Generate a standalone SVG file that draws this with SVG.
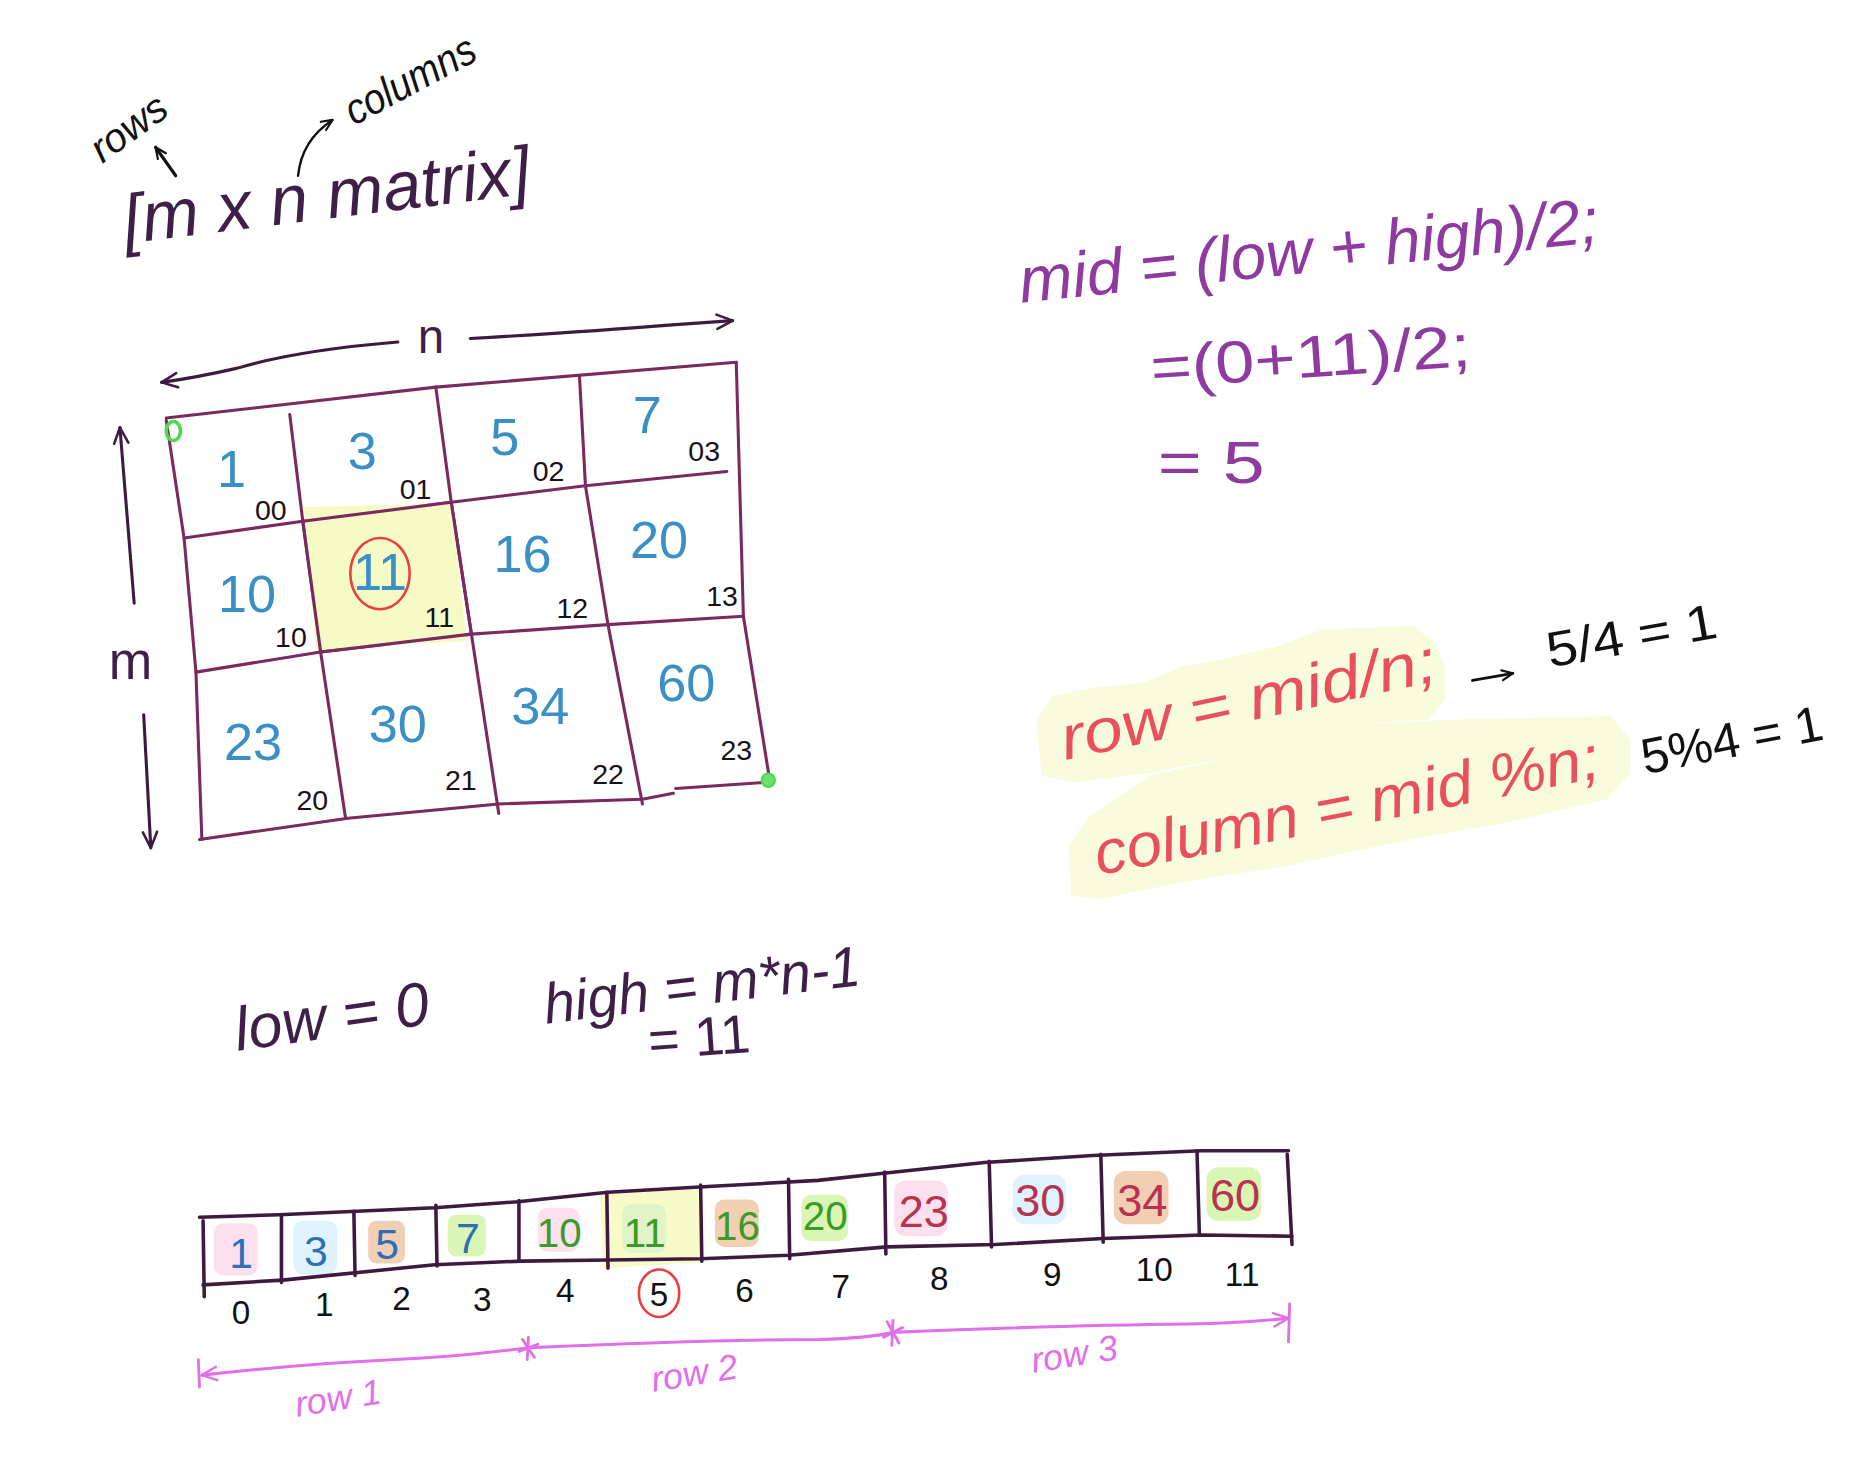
<svg xmlns="http://www.w3.org/2000/svg" width="1862" height="1457" viewBox="0 0 1862 1457">
<style>
text{font-family:"Liberation Sans","DejaVu Sans",sans-serif}
.grid{fill:none;stroke:#7b2a5f;stroke-width:2.6;stroke-linecap:round;stroke-linejoin:round}
.arr{fill:none;stroke:#3e1a40;stroke-width:3;stroke-linecap:round;stroke-linejoin:round}
.val{fill:#3a8fc4;font-size:44px;text-anchor:middle}
.idx{fill:#1a1018;font-size:24px;text-anchor:middle}
.dp{fill:#3e1f47}
.pur{fill:#8e3aa0}
.red{fill:#e8505e}
.blk{fill:#111}
.pink{fill:#e070e8}
.blue{fill:#2f6fb8;font-size:36px;text-anchor:middle}
.green{fill:#3a9a2a;font-size:34px;text-anchor:middle}
.dred{fill:#b8334f;font-size:38px;text-anchor:middle}
.aidx{fill:#111;font-size:28px;text-anchor:middle}
.con{fill:none;stroke-linecap:round;stroke-linejoin:round}
</style>
<defs>
<marker id="hd" viewBox="0 0 12 12" refX="11" refY="6" markerWidth="16" markerHeight="16" orient="auto" markerUnits="userSpaceOnUse">
<path d="M1,1.5 L11,6 L1,10.5" fill="none" stroke="#3e1a40" stroke-width="1.6" stroke-linecap="round" stroke-linejoin="round"/>
</marker>
<marker id="hdk" viewBox="0 0 12 12" refX="11" refY="6" markerWidth="11" markerHeight="11" orient="auto" markerUnits="userSpaceOnUse">
<path d="M1,1.5 L11,6 L1,10.5" fill="none" stroke="#111" stroke-width="2" stroke-linecap="round" stroke-linejoin="round"/>
</marker>
<marker id="hdp" viewBox="0 0 12 12" refX="11" refY="6" markerWidth="15" markerHeight="15" orient="auto" markerUnits="userSpaceOnUse">
<path d="M1,1.5 L11,6 L1,10.5" fill="none" stroke="#e070e8" stroke-width="1.6" stroke-linecap="round" stroke-linejoin="round"/>
</marker>
</defs>
<rect width="1862" height="1457" fill="#fff"/>
<g transform="scale(1.1875)">

<g id="title">
<text class="dp" font-size="58" transform="translate(106,205) rotate(-7)" textLength="345" lengthAdjust="spacingAndGlyphs" font-style="italic">[m x n  matrix]</text>
<text class="blk" font-size="34" font-style="italic" transform="translate(86,138) rotate(-36)">rows</text>
<text class="blk" font-size="36" font-style="italic" transform="translate(298,106) rotate(-28)" textLength="120" lengthAdjust="spacingAndGlyphs">columns</text>
</g>

<g id="matrix">
<path class="grid" d="M140,352 L367,326 L620,305"/>
<path class="grid" d="M140,354 L155,453 L165,566 L170,707"/>
<path class="grid" d="M620,305 L626,519 L648,656"/>
<path class="grid" d="M168,707 L293,689 L420,677 L541,673 L567,668"/>
<path class="grid" d="M569,664 L643,659"/>
<path class="grid" d="M155,453 L255,439 L380,423 L493,409 L612,397"/>
<path class="grid" d="M165,566 L270,549 L397,534 L512,526 L626,519"/>
<path class="grid" d="M244,349 L255,439 L270,549 L291,689"/>
<path class="grid" d="M367,326 L380,423 L397,534 L420,685"/>
<path class="grid" d="M488,317 L493,409 L512,526 L541,677"/>
</g>

<g id="cell-highlight">
<path d="M256,427 L380,424 L393,540 L266,547 Z" fill="#f5fbc0" opacity="0.9"/>
<path class="grid" d="M255,439 L380,423 L397,534 L270,549 Z"/>
</g>

<g id="matrix-values">
<text class="val" x="195" y="410">1</text>
<text class="val" x="305" y="395">3</text>
<text class="val" x="425" y="383">5</text>
<text class="val" x="545" y="365">7</text>
<text class="val" x="208" y="515">10</text>
<text class="val" x="320" y="497">11</text>
<text class="val" x="440" y="482">16</text>
<text class="val" x="555" y="470">20</text>
<text class="val" x="213" y="640">23</text>
<text class="val" x="335" y="625">30</text>
<text class="val" x="455" y="610">34</text>
<text class="val" x="578" y="590">60</text>
<ellipse cx="320" cy="483" rx="25" ry="30" fill="none" stroke="#e84040" stroke-width="2.2"/>
</g>

<g id="matrix-indices">
<text class="idx" x="228" y="438">00</text>
<text class="idx" x="350" y="420">01</text>
<text class="idx" x="462" y="405">02</text>
<text class="idx" x="593" y="388">03</text>
<text class="idx" x="245" y="545">10</text>
<text class="idx" x="370" y="528">11</text>
<text class="idx" x="482" y="520">12</text>
<text class="idx" x="608" y="510">13</text>
<text class="idx" x="263" y="682">20</text>
<text class="idx" x="388" y="665">21</text>
<text class="idx" x="512" y="660">22</text>
<text class="idx" x="620" y="640">23</text>
</g>

<g id="corners">
<ellipse cx="146" cy="363" rx="6" ry="8" fill="none" stroke="#4ddb4d" stroke-width="3"/>
<circle cx="647" cy="657" r="5.5" fill="#6ee06e" stroke="#4ddb4d" stroke-width="2"/>
</g>

<g id="dim-labels">
<text class="dp" font-size="40" x="363" y="297" text-anchor="middle">n</text>
<text class="dp" font-size="44" x="110" y="572" text-anchor="middle">m</text>
</g>

<g id="formula-mid">
<text class="pur" font-size="54" font-style="italic" transform="translate(860,255) rotate(-6)" textLength="490" lengthAdjust="spacingAndGlyphs">mid = (low + high)/2;</text>
<text class="pur" font-size="50" transform="translate(970,327) rotate(-4)" textLength="270" lengthAdjust="spacingAndGlyphs">=(0+11)/2;</text>
<text class="pur" font-size="50" x="975" y="407" textLength="90" lengthAdjust="spacingAndGlyphs">=  5</text>
</g>

<g id="formula-rowcol">
<path d="M873,606 L886,586 L922,579 L963,575 L995,561 L1031,555 L1076,544 L1113,530 L1190,527 L1208,541 L1217,561 L1217,589 L1203,606 L1113,611 L1040,637 L968,651 L904,659 L877,653 Z" fill="#f9fcdc"/>
<path d="M900,712 L918,687 L968,653 L1040,637 L1113,611 L1221,606 L1357,603 L1373,623 L1373,651 L1353,673 L1267,693 L1176,709 L1085,729 L995,743 L927,757 L902,754 Z" fill="#f9fcdc"/>
<text class="red" font-size="52" font-style="italic" transform="translate(897,640) rotate(-12)" textLength="322" lengthAdjust="spacingAndGlyphs">row = mid/n;</text>
<text class="red" font-size="52" font-style="italic" transform="translate(925,737) rotate(-11)" textLength="432" lengthAdjust="spacingAndGlyphs">column = mid %n;</text>
<text class="blk" font-size="42" transform="translate(1305,562) rotate(-10)" textLength="145" lengthAdjust="spacingAndGlyphs">5/4 = 1</text>
<text class="blk" font-size="42" transform="translate(1385,652) rotate(-11)" textLength="155" lengthAdjust="spacingAndGlyphs">5%4 = 1</text>
</g>

<g id="low-high">
<text class="dp" font-size="52" font-style="italic" transform="translate(200,885) rotate(-8)" textLength="165" lengthAdjust="spacingAndGlyphs">low = 0</text>
<text class="dp" font-size="48" font-style="italic" transform="translate(460,862) rotate(-7)" textLength="268" lengthAdjust="spacingAndGlyphs">high = m*n-1</text>
<text class="dp" font-size="46" transform="translate(547,892) rotate(-4)" textLength="86" lengthAdjust="spacingAndGlyphs">= 11</text>
</g>

<g id="array">
<path d="M505,1004 L588,999 L590,1063 L508,1068 Z" fill="#f6fbc8"/>
<rect x="180" y="1030" width="37" height="44" rx="8" fill="#fde0ee"/>
<rect x="247" y="1028" width="37" height="45" rx="8" fill="#def3fd"/>
<rect x="310" y="1028" width="31" height="36" rx="7" fill="#f1cfb3"/>
<rect x="377" y="1023" width="32" height="35" rx="7" fill="#d9f6b4"/>
<rect x="453" y="1017" width="35" height="37" rx="8" fill="#fde0ee"/>
<rect x="524" y="1014" width="37" height="41" rx="8" fill="#e0f3c9"/>
<rect x="602" y="1010" width="37" height="40" rx="8" fill="#f1cfb3"/>
<rect x="675" y="1006" width="39" height="39" rx="8" fill="#d9f6b4"/>
<rect x="753" y="994" width="45" height="47" rx="10" fill="#fde0ee"/>
<rect x="853" y="989" width="45" height="42" rx="10" fill="#def3fd"/>
<rect x="938" y="986" width="46" height="45" rx="10" fill="#f1cfb3"/>
<rect x="1016" y="983" width="46" height="45" rx="10" fill="#d9f6b4"/>
<path class="arr" d="M168,1025 L235,1023 L366,1017 L436,1012 L512,1004 L600,999 L689,994 L744,988 L829,979 L920,973 L1012,969 L1085,969"/>
<path class="arr" d="M171,1082 L238,1078 L366,1065 L439,1062 L512,1061 L590,1060 L664,1057 L747,1050 L838,1048 L929,1043 L1012,1040 L1088,1041"/>
<path class="arr" d="M171,1028 L172,1092 M237,1024 L237,1080 M298,1020 L299,1074 M367,1015 L368,1066 M437,1011 L437,1062 M511,1004 L512,1068 M590,998 L591,1062 M664,993 L665,1060 M745,987 L746,1056 M833,978 L835,1050 M927,972 L929,1046 M1008,969 L1010,1040 M1084,972 L1088,1048"/>
<text class="blue" x="203" y="1068">1</text>
<text class="blue" x="266" y="1066">3</text>
<text class="blue" x="326" y="1060">5</text>
<text class="blue" x="394" y="1055">7</text>
<text class="green" x="471" y="1050">10</text>
<text class="green" x="543" y="1050">11</text>
<text class="green" x="621" y="1044">16</text>
<text class="green" x="695" y="1036">20</text>
<text class="dred" x="778" y="1033">23</text>
<text class="dred" x="876" y="1024">30</text>
<text class="dred" x="962" y="1024">34</text>
<text class="dred" x="1040" y="1020">60</text>
</g>

<g id="array-indices">
<text class="aidx" x="203" y="1115">0</text>
<text class="aidx" x="273" y="1108">1</text>
<text class="aidx" x="338" y="1103">2</text>
<text class="aidx" x="406" y="1104">3</text>
<text class="aidx" x="476" y="1096">4</text>
<text class="aidx" x="555" y="1100">5</text>
<text class="aidx" x="627" y="1096">6</text>
<text class="aidx" x="708" y="1093">7</text>
<text class="aidx" x="791" y="1086">8</text>
<text class="aidx" x="886" y="1083">9</text>
<text class="aidx" x="972" y="1079">10</text>
<text class="aidx" x="1046" y="1083">11</text>
<ellipse cx="555" cy="1089" rx="17" ry="20" fill="none" stroke="#e84040" stroke-width="2.2"/>
</g>

<g id="row-labels">
<text class="pink" font-size="30" font-style="italic" transform="translate(250,1193) rotate(-9)">row 1</text>
<text class="pink" font-size="30" font-style="italic" transform="translate(550,1172) rotate(-9)">row 2</text>
<text class="pink" font-size="30" font-style="italic" transform="translate(870,1156) rotate(-9)">row 3</text>
</g>

<g id="connectors">
<path class="con" stroke="#111" stroke-width="2.6" d="M148,148 L131,124" marker-end="url(#hdk)"/>
<path class="con" stroke="#111" stroke-width="2" d="M251,148 Q254,118 280,101" marker-end="url(#hdk)"/>
<path class="con" stroke="#3e1a40" stroke-width="2.6" d="M335,288 Q250,295 200,310 Q165,318 136,322" marker-end="url(#hd)"/>
<path class="con" stroke="#3e1a40" stroke-width="2.6" d="M396,285 Q500,279 560,274 L617,270" marker-end="url(#hd)"/>
<path class="con" stroke="#3e1a40" stroke-width="2.6" d="M113,508 L101,360" marker-end="url(#hd)"/>
<path class="con" stroke="#3e1a40" stroke-width="2.6" d="M121,602 L127,714" marker-end="url(#hd)"/>
<path class="con" stroke="#111" stroke-width="2.4" d="M1240,573 L1274,567" marker-end="url(#hdk)"/>
<path class="con" stroke="#e070e8" stroke-width="2.6" d="M445,1135 Q380,1143 330,1145 Q260,1148 170,1158" marker-end="url(#hdp)"/>
<path class="con" stroke="#e070e8" stroke-width="2.6" d="M445,1135 Q600,1128 690,1128 Q730,1127 752,1122"/>
<path class="con" stroke="#e070e8" stroke-width="2.6" d="M752,1122 Q900,1116 1000,1115 Q1050,1114 1085,1110" marker-end="url(#hdp)"/>
<path class="con" stroke="#e070e8" stroke-width="2.4" d="M167,1145 L168,1168 M1086,1098 L1085,1130 M440,1128 L450,1143 M445,1126 L444,1145 M437,1138 L453,1132 M747,1113 L757,1131 M752,1112 L751,1133 M744,1126 L760,1118"/>
</g>

</g>
</svg>
